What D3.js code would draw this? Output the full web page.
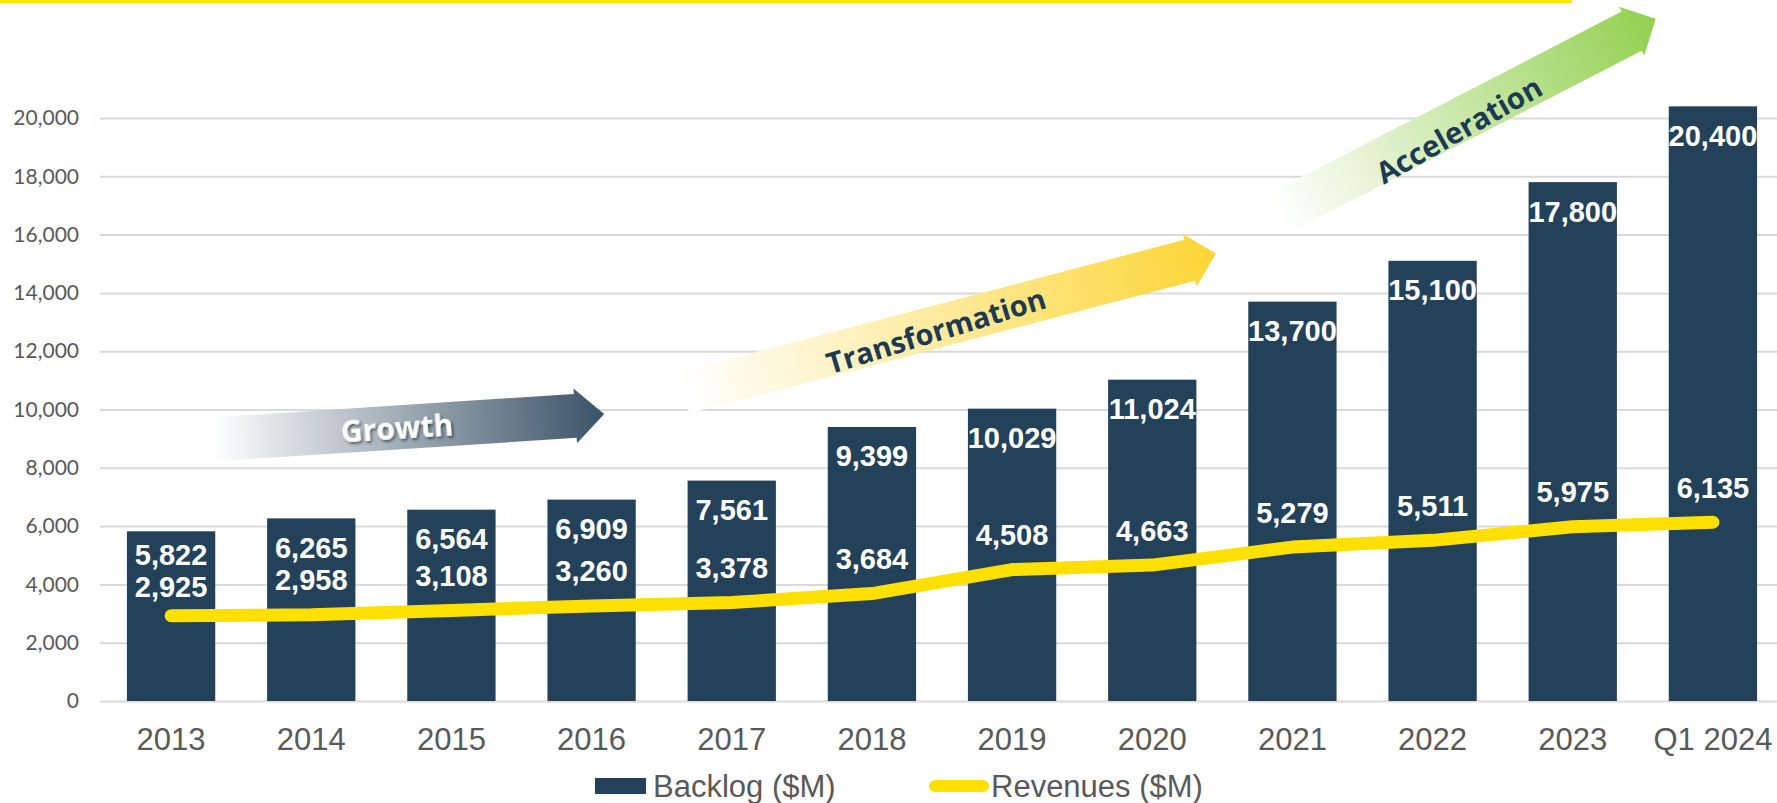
<!DOCTYPE html>
<html>
<head>
<meta charset="utf-8">
<script src="https://cdn.jsdelivr.net/npm/d3@7"></script>
<style>
  html, body { margin: 0; padding: 0; background: #fff; }
  svg { display: block; }
</style>
</head>
<body>
<svg id="chart" width="1777" height="803"></svg>
<script>
const years = ["2013", "2014", "2015", "2016", "2017", "2018", "2019", "2020", "2021", "2022", "2023", "Q1 2024"];
const backlog = [5822, 6265, 6564, 6909, 7561, 9399, 10029, 11024, 13700, 15100, 17800, 20400];
const revenues = [2925, 2958, 3108, 3260, 3378, 3684, 4508, 4663, 5279, 5511, 5975, 6135];
const yTicks = [0, 2000, 4000, 6000, 8000, 10000, 12000, 14000, 16000, 18000, 20000];
const seriesNames = ["Backlog ($M)", "Revenues ($M)"];
const phases = ["Growth", "Transformation", "Acceleration"];

const rows = years.map((d, i) => ({ year: d, backlog: backlog[i], revenue: revenues[i] }));

var svg = d3.select("#chart");
var W = 1777, left = 100;

var x = d3.scaleBand()
  .domain(years)
  .range([101, 1783])
  .paddingInner(0.37)
  .paddingOuter(0.185);

var y = d3.scaleLinear()
  .domain([0, 20000])
  .range([701, 118]);

var fmt = d3.format(",");
var barColor = "#23425a";
var lineColor = "#ffe000";

// yellow rule across the top
svg.append("rect")
  .attr("x", 0).attr("y", 0)
  .attr("width", 1572).attr("height", 3)
  .attr("fill", "#ffe600");

// y axis with gridlines
var yAxis = svg.append("g")
  .attr("transform", "translate(" + left + ",0)")
  .call(d3.axisLeft(y).tickValues(yTicks).tickFormat(fmt).tickSize(-(W - left)).tickPadding(21));
yAxis.select(".domain").remove();
yAxis.selectAll(".tick line").attr("stroke", "#d9d9d9").attr("stroke-width", 2);
yAxis.selectAll(".tick text")
  .attr("fill", "#595959")
  .style("font-family", "Lato, 'Open Sans', sans-serif")
  .style("font-size", "21px");

// x axis labels
var xAxis = svg.append("g")
  .attr("transform", "translate(0,701)")
  .call(d3.axisBottom(x).tickSize(0).tickPadding(27));
xAxis.select(".domain").remove();
xAxis.selectAll(".tick text")
  .attr("fill", "#595959")
  .style("font-family", "'Liberation Sans', Arial, sans-serif")
  .style("font-size", "31px");

// phase arrows
var defs = svg.append("defs");
var shadow = defs.append("filter").attr("id", "txtShadow")
  .attr("x", "-20%").attr("y", "-30%").attr("width", "140%").attr("height", "160%");
shadow.append("feDropShadow")
  .attr("dx", 1.5).attr("dy", 2).attr("stdDeviation", 1.5)
  .attr("flood-color", "#000").attr("flood-opacity", 0.55);

var arrows = [
  { name: phases[0], tail: [212, 439.5], angle: -3.72, len: 393, thick: 44, headW: 55, headL: 29,
    color: "#3a5367", text: [397, 428], textAngle: -3.7, textColor: "#ffffff", shadow: true, size: 30 },
  { name: phases[1], tail: [684, 393], angle: -14.7, len: 550, thick: 42.5, headW: 54, headL: 27,
    color: "#fcd535", text: [936, 331], textAngle: -17, textColor: "#1e3a52", shadow: false, size: 29 },
  { name: phases[2], tail: [1278, 213.7], angle: -27.3, len: 425, thick: 44, headW: 55, headL: 27,
    color: "#92d050", text: [1459, 130], textAngle: -29.5, textColor: "#1e3a52", shadow: false, size: 29.5 }
];

arrows.forEach(function(a, i) {
  var grad = defs.append("linearGradient")
    .attr("id", "arrowGrad" + i)
    .attr("x1", 0).attr("x2", 1).attr("y1", 0).attr("y2", 0);
  grad.append("stop").attr("offset", "0%").attr("stop-color", "#ffffff");
  grad.append("stop").attr("offset", "100%").attr("stop-color", a.color);

  var b = a.len - a.headL;
  var pts = [
    [0, -a.thick / 2], [b, -a.thick / 2], [b, -a.headW / 2], [a.len, 0],
    [b, a.headW / 2], [b, a.thick / 2], [0, a.thick / 2]
  ];
  svg.append("path")
    .attr("d", "M" + pts.map(p => p.join(",")).join("L") + "Z")
    .attr("transform", "translate(" + a.tail[0] + "," + a.tail[1] + ") rotate(" + a.angle + ")")
    .attr("fill", "url(#arrowGrad" + i + ")");

  svg.append("text")
    .attr("transform", "translate(" + a.text[0] + "," + a.text[1] + ") rotate(" + a.textAngle + ")")
    .attr("text-anchor", "middle")
    .attr("dy", "0.36em")
    .attr("fill", a.textColor)
    .attr("filter", a.shadow ? "url(#txtShadow)" : null)
    .style("font-family", "'Open Sans', sans-serif")
    .style("font-weight", 700)
    .style("font-size", a.size + "px")
    .text(a.name);
});

// bars
svg.append("g").selectAll("rect")
  .data(rows)
  .enter()
  .append("rect")
  .attr("x", d => x(d.year))
  .attr("y", d => y(d.backlog))
  .attr("width", x.bandwidth())
  .attr("height", d => y(0) - y(d.backlog))
  .attr("fill", barColor);

// revenue line
var cx = d => x(d.year) + x.bandwidth() / 2;
var line = d3.line().x(cx).y(d => y(d.revenue));
svg.append("path")
  .datum(rows)
  .attr("d", line)
  .attr("fill", "none")
  .attr("stroke", lineColor)
  .attr("stroke-width", 13)
  .attr("stroke-linecap", "round")
  .attr("stroke-linejoin", "round");

// labels, pushed apart where they would collide
rows.forEach(function(d) {
  var bc = y(d.backlog) + 29;
  var rc = y(d.revenue) - 35;
  if (rc - bc < 32) {
    var mid = (bc + rc) / 2;
    bc = mid - 16;
    rc = mid + 16;
  }
  d.bc = bc;
  d.rc = rc;
});

var labelG = svg.append("g")
  .style("font-family", "'Liberation Sans', Arial, sans-serif")
  .style("font-weight", 700)
  .style("font-size", "29px")
  .attr("fill", "#ffffff")
  .attr("text-anchor", "middle");

labelG.selectAll("text.values")
  .data(rows)
  .enter()
  .append("text")
  .attr("class", "values")
  .attr("x", cx)
  .attr("y", d => d.bc)
  .attr("dy", "0.36em")
  .text(d => fmt(d.backlog));

labelG.selectAll("text.rev")
  .data(rows)
  .enter()
  .append("text")
  .attr("class", "rev")
  .attr("x", cx)
  .attr("y", d => d.rc)
  .attr("dy", "0.36em")
  .text(d => fmt(d.revenue));

// legend
var legend = svg.append("g")
  .style("font-family", "'Liberation Sans', Arial, sans-serif")
  .style("font-size", "31px")
  .attr("fill", "#595959");

legend.append("rect")
  .attr("x", 595).attr("y", 778)
  .attr("width", 51).attr("height", 16)
  .attr("fill", barColor);
legend.append("text")
  .attr("x", 653).attr("y", 797)
  .text(seriesNames[0]);

legend.append("line")
  .attr("x1", 935).attr("x2", 983)
  .attr("y1", 786).attr("y2", 786)
  .attr("stroke", lineColor)
  .attr("stroke-width", 12)
  .attr("stroke-linecap", "round");
legend.append("text")
  .attr("x", 991).attr("y", 797)
  .text(seriesNames[1]);
</script>
</body>
</html>
